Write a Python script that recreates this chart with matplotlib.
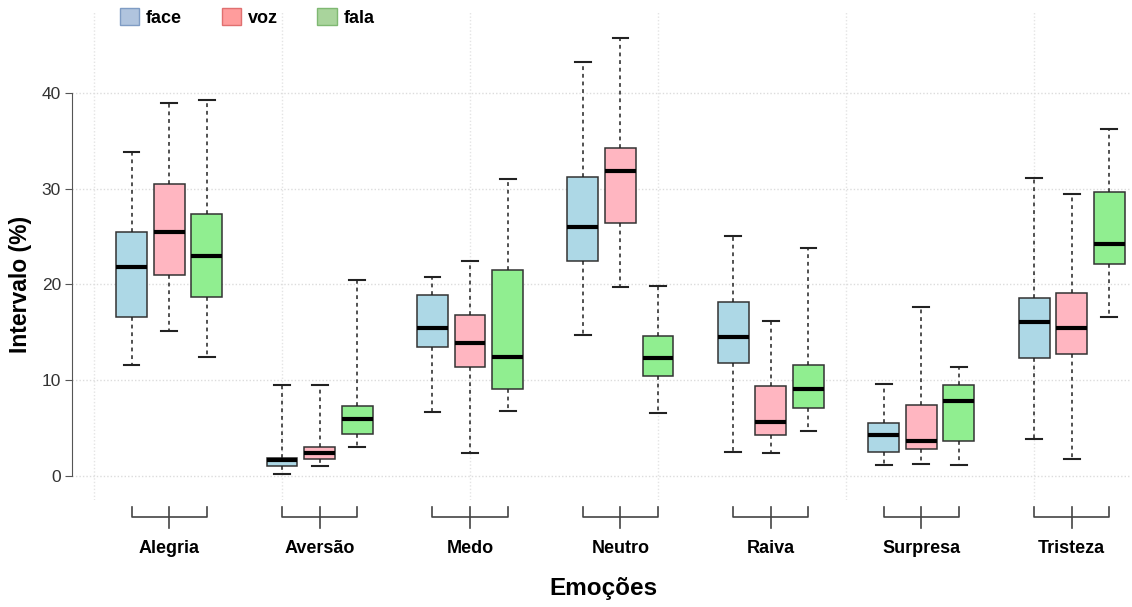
import numpy as np
import matplotlib
matplotlib.use('Agg')
import matplotlib.pyplot as plt
from matplotlib.patches import Patch

plt.rcParams['font.family'] = ['Liberation Sans', 'DejaVu Sans']

# Emotions and the three modalities
emocoes = ['Alegria', 'Aversão', 'Medo', 'Neutro', 'Raiva', 'Surpresa', 'Tristeza']
grupos = ['face', 'voz', 'fala']

# five-number summaries, one row per emotion (face, voz, fala)
whislo = [[11.6, 15.1, 12.4], [0.25, 1.05, 3.0], [6.7, 2.35, 6.8], [14.7, 19.7, 6.6],
          [2.5, 2.45, 4.7], [1.1, 1.2, 1.1], [3.9, 1.75, 16.6]]
q1 = [[16.6, 21.0, 18.7], [1.05, 1.75, 4.4], [13.5, 11.4, 9.1], [22.45, 26.45, 10.4],
      [11.8, 4.25, 7.05], [2.55, 2.8, 3.7], [12.3, 12.7, 22.1]]
med = [[21.8, 25.5, 23.0], [1.65, 2.35, 5.95], [15.5, 13.9, 12.4], [26.0, 31.8, 12.3],
       [14.5, 5.65, 9.05], [4.3, 3.7, 7.8], [16.1, 15.5, 24.2]]
q3 = [[25.45, 30.5, 27.4], [1.9, 3.0, 7.3], [18.9, 16.8, 21.5], [31.2, 34.2, 14.6],
      [18.2, 9.35, 11.6], [5.55, 7.45, 9.55], [18.55, 19.15, 29.65]]
whishi = [[33.8, 39.0, 39.3], [9.45, 9.45, 20.5], [20.8, 22.4, 31.0], [43.2, 45.7, 19.8],
          [25.1, 16.2, 23.8], [9.65, 17.6, 11.4], [31.1, 29.5, 36.2]]

box_cores = ['#add8e6', '#ffb6c1', '#90ee90']
leg_cores = ['#b0c4de', '#ff9c9c', '#a9d49c']
leg_bordas = ['#7f9cc4', '#e07070', '#7fb872']

fig = plt.figure(figsize=(11.32, 6.07), dpi=100)
ax = fig.add_axes([72 / 1132, 1 - 500 / 607, 1058 / 1132, 489 / 607])

# positions 1,2,3, 5,6,7, ... (one empty slot between emotions)
stats, pos, cores = [], [], []
for i, e in enumerate(emocoes):
    for j, g in enumerate(grupos):
        stats.append(dict(whislo=whislo[i][j], q1=q1[i][j], med=med[i][j],
                          q3=q3[i][j], whishi=whishi[i][j], fliers=[]))
        pos.append(4 * i + j + 1)
        cores.append(box_cores[j])

bp = ax.bxp(stats, positions=pos, widths=0.82, capwidths=0.42, patch_artist=True,
            showfliers=False, manage_ticks=False,
            boxprops=dict(edgecolor='#333333', linewidth=1.1),
            medianprops=dict(color='black', linewidth=3, solid_capstyle='butt'),
            whiskerprops=dict(color='#222222', linestyle=(0, (2.5, 2.5)), linewidth=1.1),
            capprops=dict(color='#222222', linewidth=1.5))
for patch, c in zip(bp['boxes'], cores):
    patch.set_facecolor(c)
for artist in bp['boxes'] + bp['medians'] + bp['whiskers'] + bp['caps']:
    artist.set_zorder(3)

ax.set_xlim(-0.585, 27.55)
ax.set_ylim(-2.51, 48.56)

# grid
ax.set_yticks([0, 10, 20, 30, 40])
ax.grid(axis='y', color='#dcdcdc', linestyle=(0, (1, 1.5)), linewidth=1)
for xv in range(0, 30, 5):
    ax.axvline(xv, color='#e4e4e4', linestyle=(0, (1, 1.5)), linewidth=1, zorder=0)
ax.set_axisbelow(True)

for s in ['top', 'right', 'bottom']:
    ax.spines[s].set_visible(False)
ax.spines['left'].set_bounds(0, 40)
ax.spines['left'].set_color('#555555')
ax.tick_params(axis='y', length=5, color='#555555', labelsize=12.5, labelcolor='#333333', pad=3)

# bracket axis under each emotion
centros = [4 * i + 2 for i in range(len(emocoes))]
for c in centros:
    ax.plot([c - 1, c - 1, c + 1, c + 1], [-3.2, -4.3, -4.3, -3.2], color='#444444',
            lw=1.2, clip_on=False)
    ax.plot([c, c], [-3.2, -5.45], color='#444444', lw=1.2, clip_on=False)
ax.set_xticks(centros)
ax.set_xticklabels(emocoes, fontsize=13, fontweight='bold')
ax.tick_params(axis='x', length=0, pad=29)

ax.set_ylabel('Intervalo (%)', fontsize=16.5, fontweight='bold')
ax.yaxis.set_label_coords(-0.038, 0.44)
ax.set_xlabel('Emoções', fontsize=17.5, fontweight='bold')
ax.xaxis.set_label_coords(0.502, -0.158)

handles = [Patch(facecolor=fc, edgecolor=ec, label=g)
           for fc, ec, g in zip(leg_cores, leg_bordas, grupos)]
ax.legend(handles=handles, loc='upper left', bbox_to_anchor=(0.045, 1.006), ncol=3,
          frameon=False, prop=dict(size=13, weight='bold'), handlelength=1.1,
          handleheight=1.05, handletextpad=0.35, columnspacing=2.2, borderpad=0,
          borderaxespad=0)

fig.savefig('out.png', dpi=100)
